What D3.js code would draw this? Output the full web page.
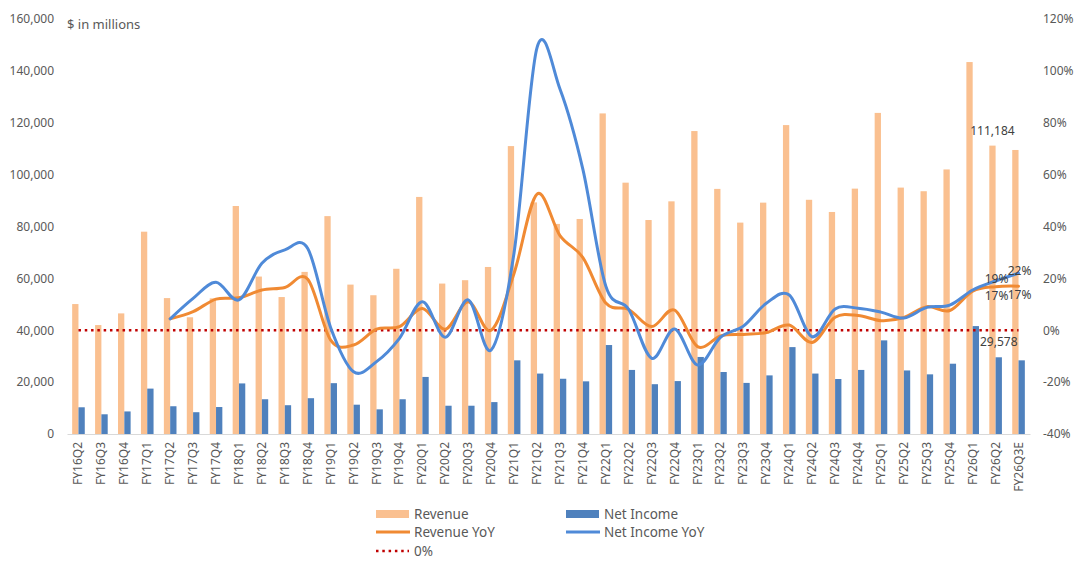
<!DOCTYPE html>
<html lang="en">
<head>
<meta charset="UTF-8" />
<title>Revenue and Net Income</title>
<script src="https://d3js.org/d3.v7.min.js"></script>
<style>
  body { margin: 0; background: #fff; }
  text { font-family: "Noto Sans", sans-serif; fill: #595959; }
</style>
</head>
<body>
<div id="chart"></div>
<script>
// quarters
const quarters = [
  "FY16Q2","FY16Q3","FY16Q4",
  "FY17Q1","FY17Q2","FY17Q3","FY17Q4",
  "FY18Q1","FY18Q2","FY18Q3","FY18Q4",
  "FY19Q1","FY19Q2","FY19Q3","FY19Q4",
  "FY20Q1","FY20Q2","FY20Q3","FY20Q4",
  "FY21Q1","FY21Q2","FY21Q3","FY21Q4",
  "FY22Q1","FY22Q2","FY22Q3","FY22Q4",
  "FY23Q1","FY23Q2","FY23Q3","FY23Q4",
  "FY24Q1","FY24Q2","FY24Q3","FY24Q4",
  "FY25Q1","FY25Q2","FY25Q3","FY25Q4",
  "FY26Q1","FY26Q2","FY26Q3E"
];

// $ in millions
const revenue = [
  50100, 42000, 46500,
  78000, 52400, 45000, 52300,
  87900, 60700, 52800, 62500,
  84000, 57600, 53500, 63700,
  91400, 58000, 59300, 64400,
  111000, 89300, 81000, 82900,
  123600, 96900, 82500, 89700,
  116800, 94500, 81500, 89200,
  119100, 90300, 85600, 94600,
  123800, 95000, 93600, 102000,
  143400, 111184, 109500
];

const netIncome = [
  10300, 7600, 8700,
  17500, 10700, 8400, 10400,
  19500, 13400, 11100, 13800,
  19600, 11300, 9500, 13400,
  22000, 10900, 10900, 12300,
  28400, 23300, 21300, 20300,
  34300, 24700, 19200, 20400,
  29700, 23900, 19700, 22600,
  33500, 23300, 21200, 24700,
  36100, 24500, 23000, 27100,
  41600, 29578, 28400
];

// YoY in %, null where no prior-year quarter
const revenueYoY = [
  null, null, null,
  null, 4.4, 7.2, 12,
  12.5, 15.5, 16.5, 19.7,
  -3.8, -5.7, 0.4, 1.4,
  8.4, 0.4, 11, 0,
  22, 52.5, 36.5, 28,
  10.5, 8, 1.4, 7.8,
  -6.3, -2.2, -1.6, -0.9,
  2, -4.7, 5, 5.7,
  3.7, 4.9, 9.1, 7.6,
  15.1, 16.8, 17
];

const netIncomeYoY = [
  null, null, null,
  null, 4.4, 12.3, 18.5,
  11.7, 25.8, 31, 31.5,
  1, -16, -12.1, -3.1,
  11, -2.7, 11.7, -7.6,
  30, 109, 93, 62,
  17, 8, -10.8, 0.5,
  -13.4, -2.7, 1.6, 10.4,
  13.6, -2.5, 8.2, 8.5,
  7, 4.7, 8.8, 9.7,
  15.5, 19, 22
];

const leftTicks = [0, 20000, 40000, 60000, 80000, 100000, 120000, 140000, 160000];
const rightTicks = [-40, -20, 0, 20, 40, 60, 80, 100, 120];

const colors = {
  revenue: "#FAC090",
  netIncome: "#4F81BD",
  revenueYoY: "#F08A33",
  netIncomeYoY: "#4F8AD8",
  zero: "#C00000"
};

const width = 1080, height = 565;
const plot = { left: 67, right: 1030, top: 19, bottom: 434 };

const svg = d3.select("#chart").append("svg")
  .attr("width", width)
  .attr("height", height);

// scales
const x = d3.scaleBand()
  .domain(quarters)
  .range([plot.left, plot.right])
  .paddingInner(0.45)
  .paddingOuter(0.225);

const xInner = d3.scaleBand()
  .domain(["revenue", "netIncome"])
  .range([0, x.bandwidth()]);

const yLeft = d3.scaleLinear().domain([0, 160000]).range([plot.bottom, plot.top]);
const yRight = d3.scaleLinear().domain([-40, 120]).range([plot.bottom, plot.top]);

const center = q => x(q) + x.bandwidth() / 2;
const fmt = d3.format(",");

// left axis
const leftAxis = svg.append("g")
  .attr("transform", `translate(${plot.left - 13},0)`)
  .call(d3.axisLeft(yLeft).tickValues(leftTicks).tickFormat(fmt).tickSize(0).tickPadding(0));
leftAxis.select(".domain").remove();
leftAxis.selectAll("text").style("font-size", "12px").style("fill", "#595959");

// right axis
const rightAxis = svg.append("g")
  .attr("transform", `translate(${plot.right + 13},0)`)
  .call(d3.axisRight(yRight).tickValues(rightTicks).tickFormat(d => d + "%").tickSize(0).tickPadding(0));
rightAxis.select(".domain").remove();
rightAxis.selectAll("text").style("font-size", "12px").style("fill", "#595959");

// bottom axis
const bottomAxis = svg.append("g")
  .attr("transform", `translate(0,${plot.bottom})`)
  .call(d3.axisBottom(x).tickSize(0).tickPadding(0));
bottomAxis.select(".domain").attr("stroke", "#d9d9d9").attr("stroke-width", 1);
bottomAxis.selectAll("text")
  .style("font-size", "12px")
  .style("fill", "#595959")
  .attr("text-anchor", "end")
  .attr("dy", null)
  .attr("transform", "translate(4,8) rotate(-90)");

// unit label
svg.append("text")
  .attr("x", 67).attr("y", 29)
  .style("font-size", "13px")
  .text("$ in millions");

// bars
const rows = quarters.map((q, i) => ({
  q, revenue: revenue[i], netIncome: netIncome[i],
  revYoY: revenueYoY[i], niYoY: netIncomeYoY[i]
}));

svg.append("g").selectAll("rect")
  .data(rows)
  .join("rect")
  .attr("x", d => x(d.q) + xInner("revenue"))
  .attr("y", d => yLeft(d.revenue))
  .attr("width", xInner.bandwidth())
  .attr("height", d => plot.bottom - yLeft(d.revenue))
  .attr("fill", colors.revenue);

svg.append("g").selectAll("rect")
  .data(rows)
  .join("rect")
  .attr("x", d => x(d.q) + xInner("netIncome"))
  .attr("y", d => yLeft(d.netIncome))
  .attr("width", xInner.bandwidth())
  .attr("height", d => plot.bottom - yLeft(d.netIncome))
  .attr("fill", colors.netIncome);

// 0% reference line
svg.append("line")
  .attr("x1", center(quarters[0]))
  .attr("x2", center(quarters[quarters.length - 1]))
  .attr("y1", yRight(0)).attr("y2", yRight(0))
  .attr("stroke", colors.zero)
  .attr("stroke-width", 2.5)
  .attr("stroke-dasharray", "2.5 3.8");

// YoY lines (Excel-style smoothing)
const lineRev = d3.line()
  .x(d => center(d.q))
  .y(d => yRight(d.revYoY))
  .curve(d3.curveCardinal.tension(0));
const lineNi = d3.line()
  .x(d => center(d.q))
  .y(d => yRight(d.niYoY))
  .curve(d3.curveCardinal.tension(0));

svg.append("path")
  .datum(rows.filter(d => d.revYoY != null))
  .attr("d", lineRev)
  .attr("fill", "none")
  .attr("stroke", colors.revenueYoY)
  .attr("stroke-width", 3)
  .attr("stroke-linecap", "round");

svg.append("path")
  .datum(rows.filter(d => d.niYoY != null))
  .attr("d", lineNi)
  .attr("fill", "none")
  .attr("stroke", colors.netIncomeYoY)
  .attr("stroke-width", 3)
  .attr("stroke-linecap", "round");

// data labels on the last points
const lastTwo = rows.slice(-2);
const labels = svg.append("g").style("font-size", "12px");

labels.append("text")
  .attr("x", x("FY26Q2") + xInner("revenue") + xInner.bandwidth() / 2)
  .attr("y", yLeft(111184) - 11)
  .attr("text-anchor", "middle")
  .style("fill", "#404040")
  .text(fmt(111184));

labels.append("text")
  .attr("x", x("FY26Q2") + xInner("netIncome") + xInner.bandwidth() / 2)
  .attr("y", yLeft(29578) - 11)
  .attr("text-anchor", "middle")
  .style("fill", "#404040")
  .text(fmt(29578));

labels.selectAll(".niLab")
  .data(lastTwo)
  .join("text")
  .attr("x", d => center(d.q) + 1)
  .attr("y", d => yRight(d.niYoY) + 2)
  .attr("text-anchor", "middle")
  .style("fill", "#404040")
  .text(d => Math.round(d.niYoY) + "%");

labels.selectAll(".revLab")
  .data(lastTwo)
  .join("text")
  .attr("x", d => center(d.q) + 1)
  .attr("y", d => yRight(d.revYoY) + 13)
  .attr("text-anchor", "middle")
  .style("fill", "#404040")
  .text(d => Math.round(d.revYoY) + "%");

// legend
const legend = svg.append("g").style("font-size", "13.5px");
const legendItems = [
  { label: "Revenue", type: "rect", color: colors.revenue, x: 376, y: 514 },
  { label: "Net Income", type: "rect", color: colors.netIncome, x: 566, y: 514 },
  { label: "Revenue YoY", type: "line", color: colors.revenueYoY, x: 376, y: 532 },
  { label: "Net Income YoY", type: "line", color: colors.netIncomeYoY, x: 566, y: 532 },
  { label: "0%", type: "dot", color: colors.zero, x: 376, y: 551 }
];

legendItems.forEach(it => {
  if (it.type === "rect") {
    legend.append("rect")
      .attr("x", it.x).attr("y", it.y - 4)
      .attr("width", 33).attr("height", 8)
      .attr("fill", it.color);
  } else if (it.type === "line") {
    legend.append("line")
      .attr("x1", it.x).attr("x2", it.x + 34)
      .attr("y1", it.y).attr("y2", it.y)
      .attr("stroke", it.color).attr("stroke-width", 3);
  } else {
    legend.append("line")
      .attr("x1", it.x).attr("x2", it.x + 33)
      .attr("y1", it.y).attr("y2", it.y)
      .attr("stroke", it.color).attr("stroke-width", 2.5)
      .attr("stroke-dasharray", "2.5 3.8");
  }
  legend.append("text")
    .attr("x", it.x + 38)
    .attr("y", it.y)
    .attr("dy", "0.35em")
    .text(it.label);
});
</script>
</body>
</html>
